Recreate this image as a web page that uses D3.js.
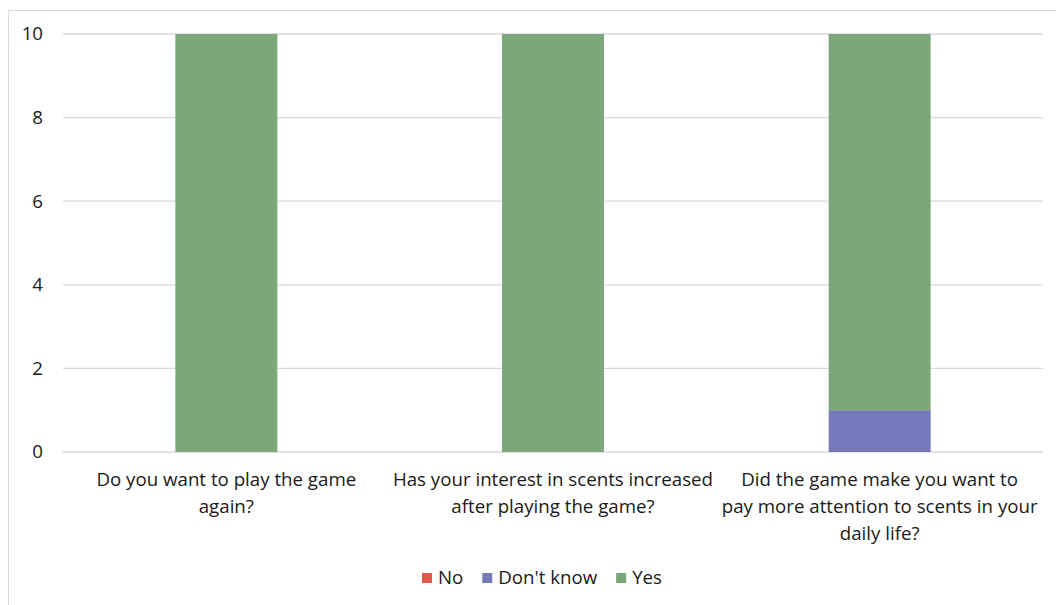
<!DOCTYPE html>
<html><head><meta charset="utf-8">
<script src="https://cdn.jsdelivr.net/npm/d3@7"></script>
<style>body{margin:0;background:#fff}svg{display:block}</style>
</head><body>
<script>
const categories = ["Do you want to play the game again?",
  "Has your interest in scents increased after playing the game?",
  "Did the game make you want to pay more attention to scents in your daily life?"];
const categoryLines = [["Do you want to play the game", "again?"],
  ["Has your interest in scents increased", "after playing the game?"],
  ["Did the game make you want to", "pay more attention to scents in your", "daily life?"]];
const seriesNames = ["No", "Don't know", "Yes"];
const noValues = [0, 0, 0];
const dontKnowValues = [0, 0, 1];
const yesValues = [10, 10, 9];
const yTicks = [0, 2, 4, 6, 8, 10];
const colors = ["#e0564b", "#7579ba", "#7ba77b"];

const W = 1056, H = 605;
const margin = {left: 63, right: 13, top: 34, bottom: 153};
const svg = d3.select("body").append("svg").attr("width", W).attr("height", H);
const font = "'Open Sans', sans-serif";
const fs = 18.7;
const txtCol = "#1a1a1a";

svg.append("rect").attr("x", 8.5).attr("y", 10.5).attr("width", W + 10).attr("height", H + 10)
  .attr("fill", "none").attr("stroke", "#d9d9d9");

const x = d3.scaleBand().domain(categories).range([margin.left, W - margin.right]).padding(0);
const y = d3.scaleLinear().domain([0, 10]).range([H - margin.bottom, margin.top]);

const grid = svg.append("g");
grid.selectAll("line").data(yTicks).join("line")
  .attr("x1", margin.left).attr("x2", W - margin.right)
  .attr("y1", d => y(d)).attr("y2", d => y(d))
  .attr("stroke", "#d9d9d9").attr("stroke-width", 1.3);

const yAxis = d3.axisLeft(y).tickValues(yTicks).tickSize(0).tickPadding(0);
const ga = svg.append("g").attr("transform", `translate(${margin.left - 20},0)`).call(yAxis);
ga.select(".domain").remove();
ga.selectAll("text").attr("font-family", font).attr("font-size", fs).attr("fill", txtCol);

const data = categories.map((c, i) => ({cat: c, "No": noValues[i], "Don't know": dontKnowValues[i], "Yes": yesValues[i]}));
const stack = d3.stack().keys(seriesNames)(data);
const barW = x.bandwidth() * 0.312;
svg.append("g").selectAll("g").data(stack).join("g").attr("fill", (d, i) => colors[i])
  .selectAll("rect").data(d => d).join("rect")
  .attr("x", d => x(d.data.cat) + x.bandwidth() / 2 - barW / 2)
  .attr("width", barW)
  .attr("y", d => y(d[1]))
  .attr("height", d => y(d[0]) - y(d[1]));

// category labels
const labG = svg.append("g").attr("font-family", font).attr("font-size", fs).attr("fill", txtCol).attr("text-anchor", "middle");
categories.forEach((c, ci) => {
  const t = labG.append("text").attr("x", x(c) + x.bandwidth() / 2).attr("y", H - margin.bottom + 34);
  categoryLines[ci].forEach((l, i) => t.append("tspan").attr("x", x(c) + x.bandwidth() / 2).attr("dy", i ? 27 : 0).text(l));
});

// legend
const legItems = seriesNames.map((n, i) => ({n, c: colors[i]}));
const lg = svg.append("g").attr("font-family", font).attr("font-size", fs).attr("fill", txtCol);
let lx = 0;
const items = lg.selectAll("g").data(legItems).join("g");
items.each(function(d) {
  const g = d3.select(this);
  g.append("rect").attr("width", 10).attr("height", 10).attr("y", -11).attr("fill", d.c);
  const t = g.append("text").attr("x", 16).attr("y", 0).text(d.n);
  const w = 16 + t.node().getComputedTextLength();
  g.attr("transform", `translate(${lx},0)`);
  lx += w + 19;
});
lx -= 19;
lg.attr("transform", `translate(${(W - lx) / 2 + 14},584)`);
</script>
</body></html>
